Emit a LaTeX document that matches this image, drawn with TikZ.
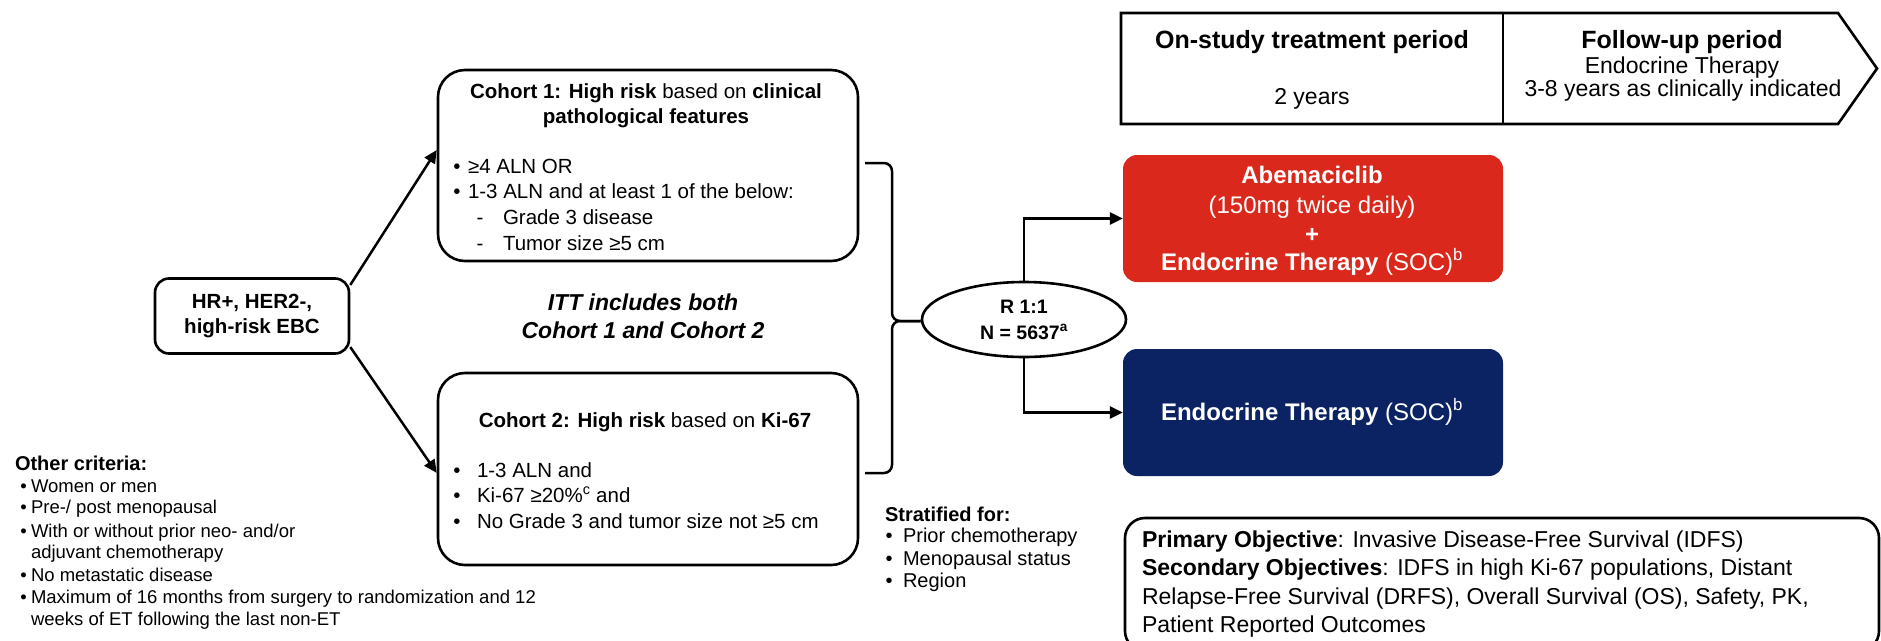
\documentclass[tikz,border=0pt]{standalone}
\usepackage{fontspec}
\setmainfont{Liberation Sans}
\usetikzlibrary{arrows.meta,shapes.geometric,calc}
\definecolor{abred}{RGB}{218,41,28}
\definecolor{etblue}{RGB}{11,35,99}
\newcommand\fsz[1]{\fontsize{#1}{#1}\selectfont}
\begin{document}
\begin{tikzpicture}[x=1pt,y=-1pt,
  box/.style={draw, line width=2.6pt, rounded corners=#1, inner sep=0pt},
  box/.default=20pt,
  txtL/.style={inner sep=0pt, outer sep=0pt, anchor=base west},
  txtC/.style={inner sep=0pt, outer sep=0pt, anchor=base},
  arr/.style={line width=2.5pt, -{Triangle[length=13pt,width=12pt]}},
  armbox/.style={rounded corners=14pt, minimum width=380pt, minimum height=127pt, inner sep=0pt}
]
\fill[white] (0,0) rectangle (1881,640);
\useasboundingbox (0,0) rectangle (1881,640);

% ---------- timeline ----------
\draw[line width=2.6pt, line join=miter] (1121,13) -- (1838,13) -- (1877,68.5) -- (1838,124) -- (1121,124) -- cycle;
\draw[line width=2.6pt] (1503,13) -- (1503,124);
\node[txtC, font=\fsz{25}\bfseries] (t1) at (1312,48) {On-study treatment period};
\node[txtC, font=\fsz{23}] (t2) at (1312,104) {2 years};
\node[txtC, font=\fsz{25}\bfseries] (t3) at (1682,48) {Follow-up period};
\node[txtC, font=\fsz{23}] (t4) at (1682,73) {Endocrine Therapy};
\node[txtC, font=\fsz{23}] (t5) at (1683,96) {3-8 years as clinically indicated};

% ---------- arms ----------
\node[armbox, fill=abred] (abe) at (1313,218.5) {};
\node[txtC, font=\fsz{24}\bfseries, text=white] (abe1) at (1312,183) {Abemaciclib};
\node[txtC, font=\fsz{24}, text=white] (abe2) at (1312,213) {(150mg twice daily)};
\node[txtC, font=\fsz{24}\bfseries, text=white] (abe3) at (1312,242) {+};
\node[txtC, font=\fsz{24}, text=white] (abe4) at (1312,270) {\textbf{Endocrine Therapy} (SOC)\textsuperscript{b}};

\node[armbox, fill=etblue] (et) at (1313,412.5) {};
\node[txtC, font=\fsz{24}, text=white] (et1) at (1312,420) {\textbf{Endocrine Therapy} (SOC)\textsuperscript{b}};

% ---------- randomisation ----------
\node[ellipse, draw, line width=2.6pt, minimum width=204pt, minimum height=75pt, inner sep=0pt] (R) at (1024,319.5) {};
\node[txtC, font=\fsz{19.5}\bfseries] (r1) at (1024,313) {R 1:1};
\node[txtC, font=\fsz{19.5}\bfseries] (r2) at (1024,339) {N = 5637\textsuperscript{a}};

\draw[arr] (R.north) |- (abe.west);
\draw[arr] (R.south) |- (et.west);

% ---------- brace ----------
\coordinate (bt) at (865,163);
\coordinate (bb) at (865,473);
\coordinate (bm) at (892,321);
\draw[line width=2.5pt, rounded corners=8pt] (bt) -| (bm) -- (bm -| R.west);
\draw[line width=2.5pt, rounded corners=8pt] (bb) -| (bm) -- (bm -| R.west);

% ---------- population ----------
\node[box=14pt, minimum width=194pt, minimum height=75pt, font=\fontsize{20.5}{25}\selectfont\bfseries, align=center] (hr) at (252,316) {HR+, HER2-,\\high-risk EBC};

\node[box=27pt, minimum width=420pt, minimum height=191pt] (c1) at (648,165.5) {};
\node[box=27pt, minimum width=420pt, minimum height=192pt] (c2) at (648,469) {};

\draw[arr] ($(hr.north east)!0.1!(hr.south east)$) -- ($(c1.north west)!0.42!(c1.south west)$);
\draw[arr] ($(hr.north east)!0.9!(hr.south east)$) -- ($(c2.north west)!0.52!(c2.south west)$);

% cohort 1 text
\node[txtC, font=\fsz{20.5}] (c1t1) at (646,98) {\textbf{Cohort 1: High risk} based on \textbf{clinical}};
\node[txtC, font=\fsz{20.5}\bfseries] (c1t2) at (646,123) {pathological features};
\node[txtC, font=\fsz{20.5}] (c1b1) at (457,173) {•};
\node[txtL, font=\fsz{20.5}] (c1l1) at (468,173) {≥4 ALN OR};
\node[txtC, font=\fsz{20.5}] (c1b2) at (457,198) {•};
\node[txtL, font=\fsz{20.5}] (c1l2) at (468,198) {1-3 ALN and at least 1 of the below:};
\node[txtC, font=\fsz{20.5}] (c1d1) at (480,224) {-};
\node[txtL, font=\fsz{20.5}] (c1l3) at (503,224) {Grade 3 disease};
\node[txtC, font=\fsz{20.5}] (c1d2) at (480,250) {-};
\node[txtL, font=\fsz{20.5}] (c1l4) at (503,250) {Tumor size ≥5 cm};

% cohort 2 text
\node[txtC, font=\fsz{20.5}] (c2t) at (645,427) {\textbf{Cohort 2: High risk} based on \textbf{Ki-67}};
\node[txtC, font=\fsz{20.5}] (c2b1) at (457,477) {•};
\node[txtL, font=\fsz{20.5}] (c2l1) at (477,477) {1-3 ALN and};
\node[txtC, font=\fsz{20.5}] (c2b2) at (457,502) {•};
\node[txtL, font=\fsz{20.5}] (c2l2) at (477,502) {Ki-67 ≥20\%\textsuperscript{c} and};
\node[txtC, font=\fsz{20.5}] (c2b3) at (457,528) {•};
\node[txtL, font=\fsz{20.5}] (c2l3) at (477,528) {No Grade 3 and tumor size not ≥5 cm};

% ITT
\node[txtC, font=\fsz{23}\bfseries\itshape] (itt1) at (643,310) {ITT includes both};
\node[txtC, font=\fsz{23}\bfseries\itshape] (itt2) at (643,338) {Cohort 1 and Cohort 2};

% ---------- other criteria ----------
\node[txtL, font=\fsz{20}\bfseries] (oc) at (15,470) {Other criteria:};
\node[txtC, font=\fsz{18.5}] (ob1) at (23.5,492) {•};
\node[txtL, font=\fsz{18.5}] (ol1) at (31,492) {Women or men};
\node[txtC, font=\fsz{18.5}] (ob2) at (23.5,513) {•};
\node[txtL, font=\fsz{18.5}] (ol2) at (31,513) {Pre-/ post menopausal};
\node[txtC, font=\fsz{18.5}] (ob3) at (23.5,537) {•};
\node[txtL, font=\fsz{18.5}] (ol3) at (31,537) {With or without prior neo- and/or};
\node[txtL, font=\fsz{18.5}] (ol3b) at (31,558) {adjuvant chemotherapy};
\node[txtC, font=\fsz{18.5}] (ob4) at (23.5,581) {•};
\node[txtL, font=\fsz{18.5}] (ol4) at (31,581) {No metastatic disease};
\node[txtC, font=\fsz{18.5}] (ob5) at (23.5,603) {•};
\node[txtL, font=\fsz{18.5}] (ol5) at (31,603) {Maximum of 16 months from surgery to randomization and 12};
\node[txtL, font=\fsz{18.5}] (ol5b) at (31,625) {weeks of ET following the last non-ET};

% ---------- stratified ----------
\node[txtL, font=\fsz{20}\bfseries] (sf) at (885,521) {Stratified for:};
\node[txtC, font=\fsz{20}] (sb1) at (889,542) {•};
\node[txtL, font=\fsz{20}] (sl1) at (903,542) {Prior chemotherapy};
\node[txtC, font=\fsz{20}] (sb2) at (889,565) {•};
\node[txtL, font=\fsz{20}] (sl2) at (903,565) {Menopausal status};
\node[txtC, font=\fsz{20}] (sb3) at (889,587) {•};
\node[txtL, font=\fsz{20}] (sl3) at (903,587) {Region};

% ---------- objectives (box bottom just below the edge) ----------
\draw[line width=2.6pt, rounded corners=20pt] (1125,518) rectangle (1879,651);
\node[txtL, font=\fsz{23}] (o1) at (1142,547) {\textbf{Primary Objective}: Invasive Disease-Free Survival (IDFS)};
\node[txtL, font=\fsz{23}] (o2) at (1142,575) {\textbf{Secondary Objectives}: IDFS in high Ki-67 populations, Distant};
\node[txtL, font=\fsz{23}] (o3) at (1142,604) {Relapse-Free Survival (DRFS), Overall Survival (OS), Safety, PK,};
\node[txtL, font=\fsz{23}] (o4) at (1142,632) {Patient Reported Outcomes};
\end{tikzpicture}
\end{document}
